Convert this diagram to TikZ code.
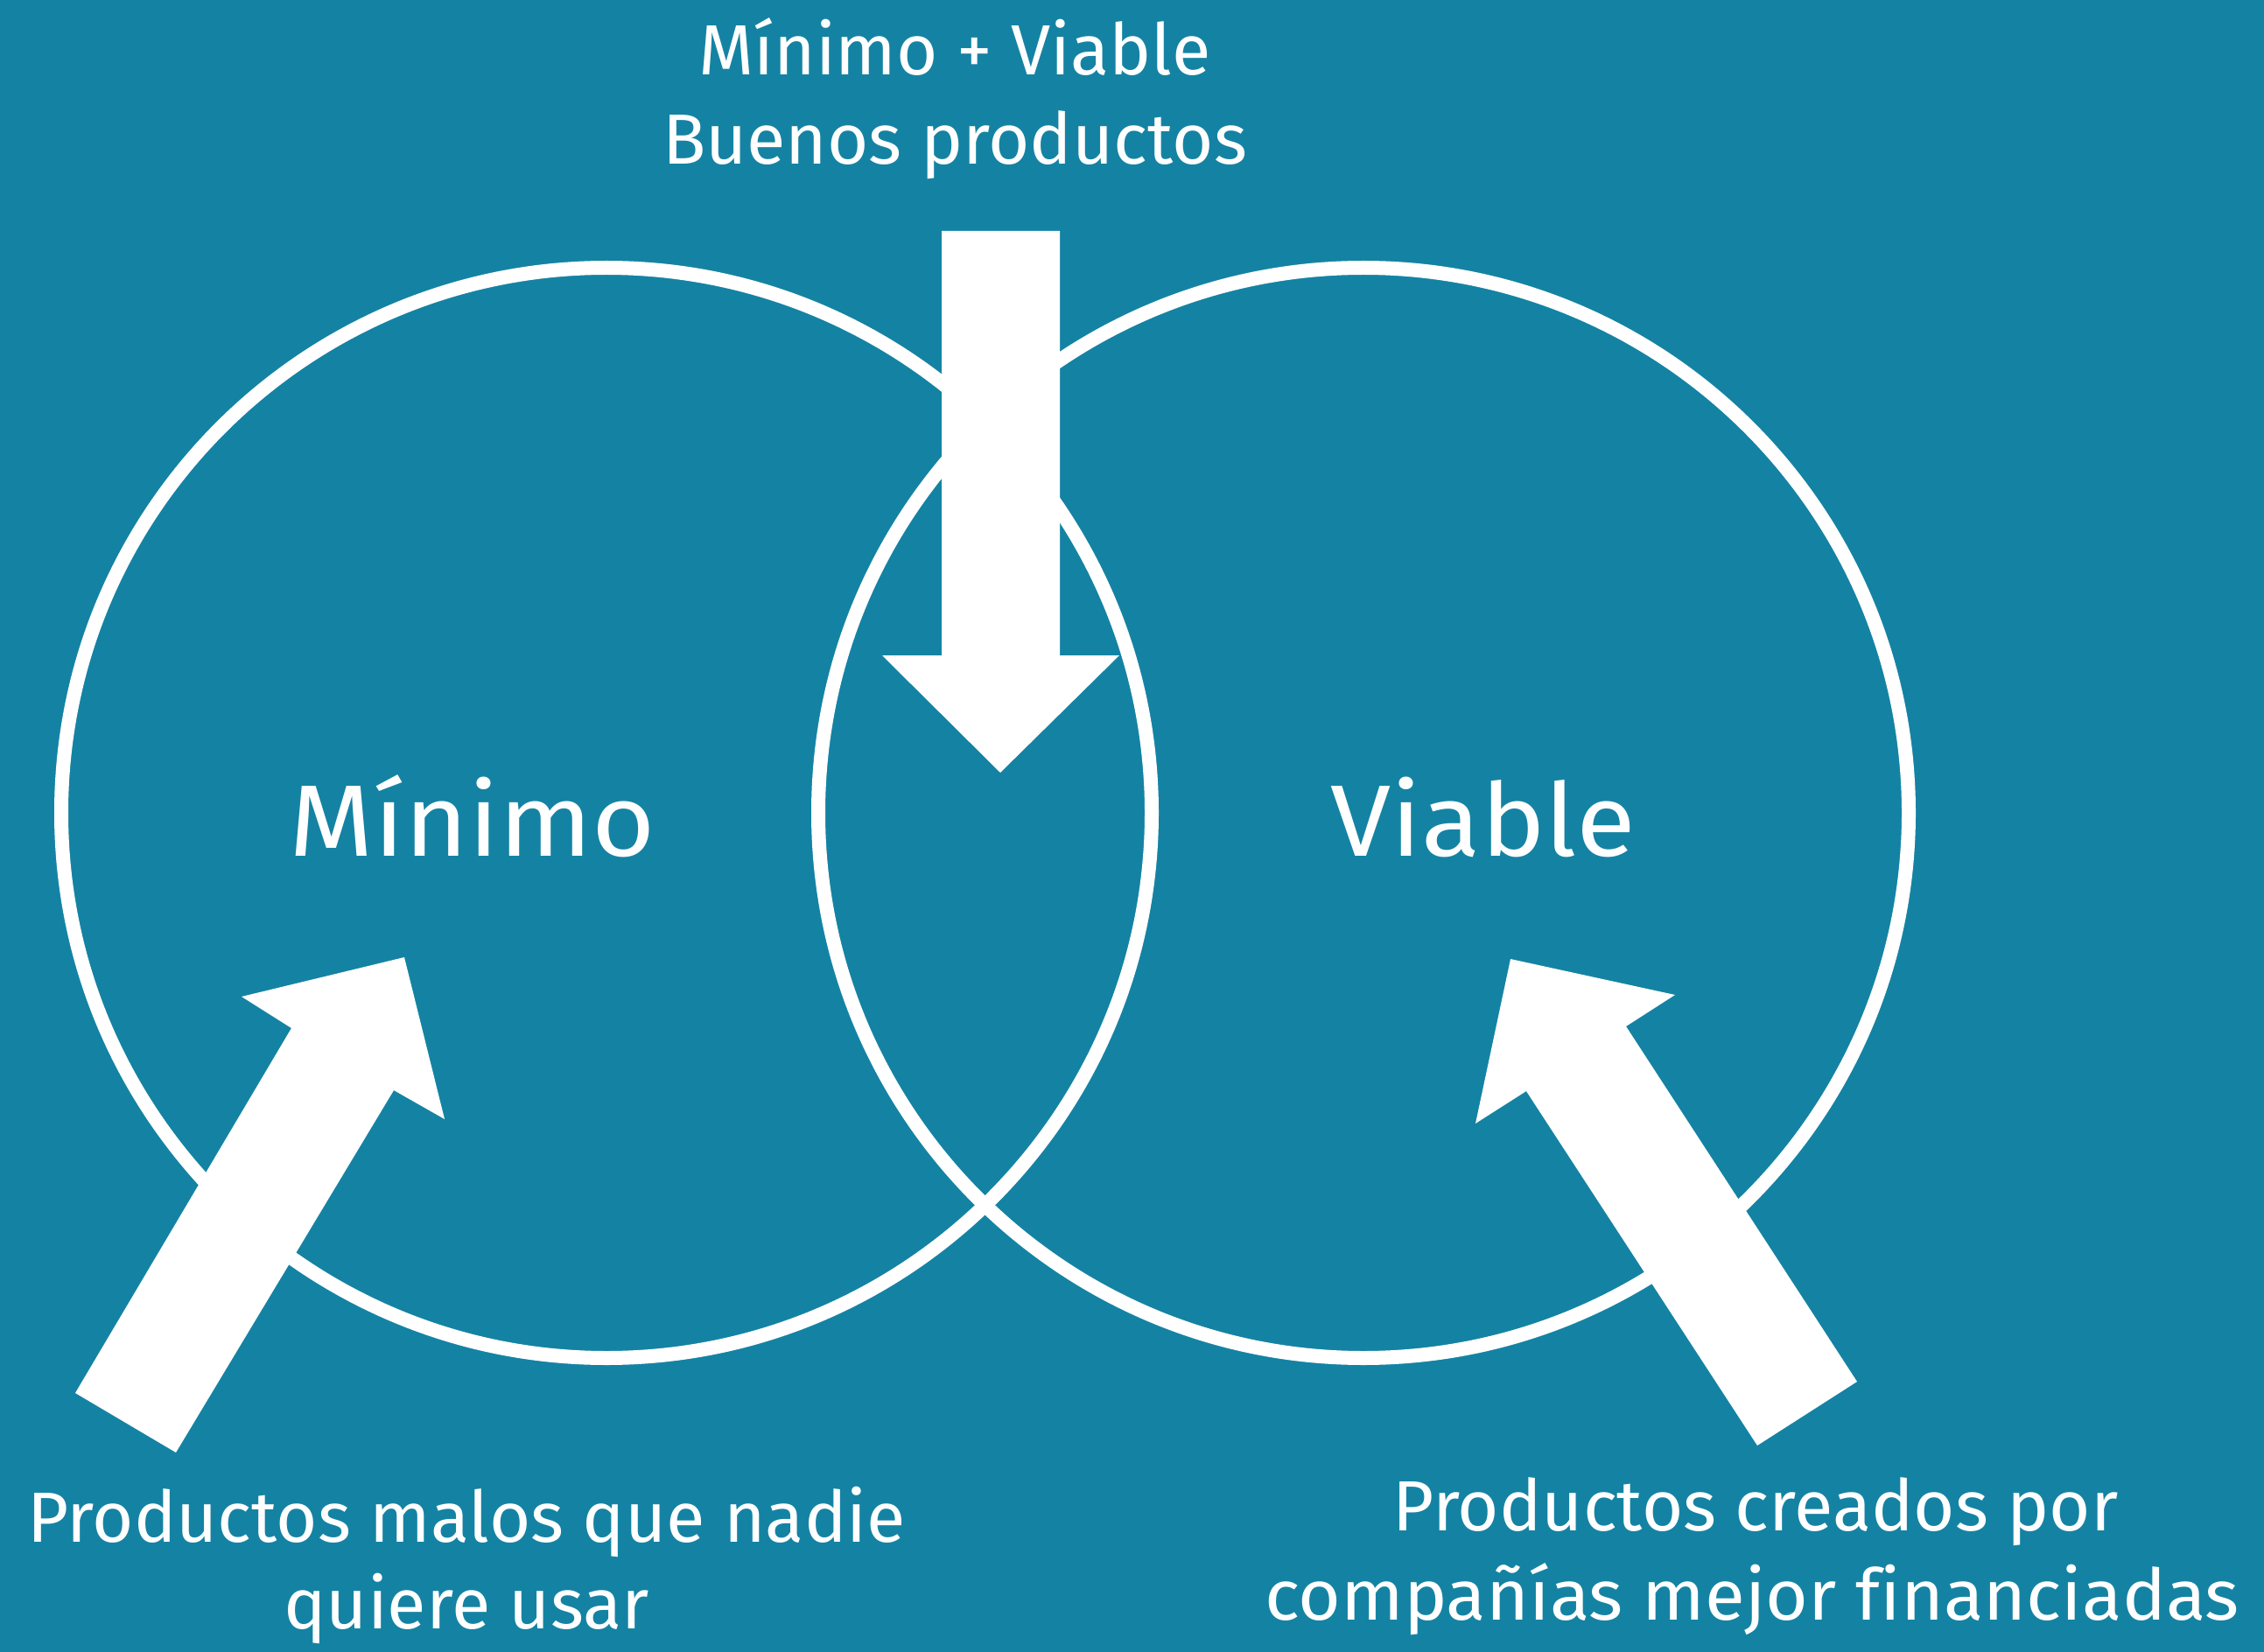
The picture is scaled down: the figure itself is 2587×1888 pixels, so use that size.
\documentclass[tikz,border=0pt]{standalone}
\usepackage{fontspec}
\setmainfont{Fira Sans}[Ligatures=CommonOff]
\definecolor{bgteal}{RGB}{20,131,163}
\begin{document}
\begin{tikzpicture}[x=0.5pt,y=-0.5pt,
  ring/.style={draw=white,line width=8pt},
  bigarrow/.style={fill=white,draw=none},
  smalltxt/.style={text=white,anchor=base,inner sep=0pt,font=\fontsize{40.6}{48}\selectfont},
  bigtxt/.style={text=white,anchor=base,inner sep=0pt,xscale=1.07,font=\fontsize{58}{68}\selectfont}]
\fill[bgteal] (0,0) rectangle (2587,1888);
\useasboundingbox (0,0) rectangle (2587,1888);
% circles
\draw[ring] (693,929) circle[radius=623];
\draw[ring] (1558,929) circle[radius=623];
% down arrow
\fill[bigarrow] (1076,264) -- (1211,264) -- (1211,749) -- (1279,749) -- (1143,883) -- (1008,749) -- (1076,749) -- cycle;
% left arrow
\fill[bigarrow] (86,1592) -- (333,1175) -- (276,1139) -- (462,1094) -- (508,1279) -- (450,1246) -- (201,1660) -- cycle;
% right arrow
\fill[bigarrow] (2122,1579) -- (1858,1173) -- (1914,1137) -- (1726,1096) -- (1686,1284) -- (1744,1247) -- (2008,1652) -- cycle;
% texts
\node[smalltxt] (t1) at (1091,86) {Mínimo + Viable};
\node[smalltxt] (t2) at (1091,188) {Buenos productos};
\node[bigtxt] (m) at (540,978) {Mínimo};
\node[bigtxt] (v) at (1695,978) {Viable};
\node[smalltxt] (l1) at (533,1762) {Productos malos que nadie};
\node[smalltxt] (l2) at (533,1861) {quiere usar};
\node[smalltxt] (r1) at (2006,1749) {Productos creados por};
\node[smalltxt,xscale=1.03] (r2) at (2002,1851) {compañías mejor financiadas};
\end{tikzpicture}
\end{document}
